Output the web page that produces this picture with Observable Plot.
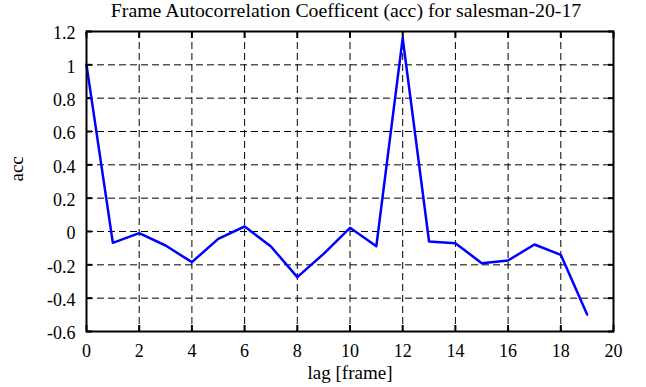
<!DOCTYPE html>
<html>
<head>
<meta charset="utf-8">
<script src="https://cdn.jsdelivr.net/npm/d3@7"></script>
<script src="https://cdn.jsdelivr.net/npm/@observablehq/plot@0.6"></script>
<style>
  html, body { margin: 0; padding: 0; background: #fff; }
  #chart svg { display: block; }
</style>
</head>
<body>
<div id="chart"></div>
<script>
const titleText = "Frame Autocorrelation Coefficent (acc) for salesman-20-17";
const xLabel = "lag [frame]";
const yLabel = "acc";
const lags = [0,1,2,3,4,5,6,7,8,9,10,11,12,13,14,15,16,17,18,19];
const accValues = [1.0,-0.068,-0.010,-0.084,-0.184,-0.044,0.030,-0.090,-0.274,-0.134,0.022,-0.088,1.16,-0.060,-0.070,-0.190,-0.174,-0.078,-0.140,-0.498];
const xTicks = [0,2,4,6,8,10,12,14,16,18,20];
const yTicks = [-0.6,-0.4,-0.2,0,0.2,0.4,0.6,0.8,1,1.2];

const data = lags.map((l, i) => ({lag: l, acc: accValues[i]}));
const fmt = d => String(+d.toFixed(1));
const font = "'Liberation Serif', 'Times New Roman', serif";

const chart = Plot.plot({
  width: 646,
  height: 387,
  marginLeft: 86,
  marginRight: 33,
  marginTop: 31,
  marginBottom: 56,
  style: {fontFamily: font, fontSize: "18px", color: "black", background: "white"},
  x: {domain: [0, 20], ticks: xTicks},
  y: {domain: [-0.6, 1.2], ticks: yTicks},
  marks: [
    Plot.gridX(xTicks, {stroke: "black", strokeOpacity: 1, strokeDasharray: "7,4", strokeWidth: 1}),
    Plot.gridY(yTicks, {stroke: "black", strokeOpacity: 1, strokeDasharray: "7,4", strokeWidth: 1}),
    Plot.axisX(xTicks, {anchor: "bottom", tickSize: 0, tickPadding: 13, tickFormat: fmt, label: null, fontSize: 18, fontFamily: font, fill: "black"}),
    Plot.axisY(yTicks, {anchor: "left", tickSize: 0, tickPadding: 11, tickFormat: fmt, label: null, fontSize: 18, fontFamily: font, fill: "black", dy: 2}),
    Plot.axisX(xTicks, {anchor: "bottom", tickSize: -6, text: null, label: null, strokeWidth: 2}),
    Plot.axisX(xTicks, {anchor: "top", tickSize: -6, text: null, label: null, strokeWidth: 2}),
    Plot.axisY(yTicks, {anchor: "left", tickSize: -6, text: null, label: null, strokeWidth: 2}),
    Plot.axisY(yTicks, {anchor: "right", tickSize: -6, text: null, label: null, strokeWidth: 2}),
    Plot.line(data, {x: "lag", y: "acc", stroke: "#0000ff", strokeWidth: 2.5}),
    Plot.frame({stroke: "black", strokeWidth: 2}),
    Plot.text([titleText], {frameAnchor: "top", dy: -15, dx: -4, lineAnchor: "bottom", fontSize: 19.8, fontFamily: font, fill: "black"}),
    Plot.text([xLabel], {frameAnchor: "bottom", dy: 47, lineAnchor: "bottom", fontSize: 19, fontFamily: font, fill: "black"}),
    Plot.text([yLabel], {frameAnchor: "left", dx: -70, rotate: -90, fontSize: 19, fontFamily: font, fill: "black"})
  ]
});
document.getElementById("chart").appendChild(chart);
</script>
</body>
</html>
